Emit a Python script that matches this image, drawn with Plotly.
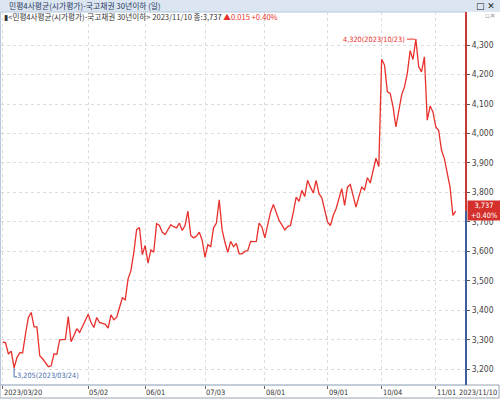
import pandas as pd
import plotly.graph_objects as go

holidays = ["2023-05-01", "2023-05-05", "2023-05-29", "2023-06-06", "2023-08-15",
            "2023-09-28", "2023-09-29", "2023-10-02", "2023-10-03", "2023-10-09"]
dates = [d.strftime("%Y-%m-%d") for d in
         pd.bdate_range("2023-03-20", "2023-11-10", freq="C", holidays=holidays)]

values = [
    3293, 3290, 3252, 3262, 3205, 3240, 3257, 3256, 3320, 3376,
    3393, 3344, 3344, 3246, 3236, 3222, 3209, 3212, 3253, 3251,
    3300, 3301, 3302, 3379, 3294, 3315, 3338, 3325, 3345, 3365,
    3387, 3359, 3342, 3376, 3359, 3356, 3353, 3340, 3385, 3368,
    3376, 3410, 3443, 3436, 3507, 3535, 3596, 3674, 3681, 3589,
    3620, 3560, 3605, 3597, 3694, 3688, 3665, 3657, 3675, 3691,
    3684, 3680, 3696, 3671, 3688, 3737, 3654, 3646, 3652, 3665,
    3638, 3580, 3623, 3616, 3680, 3696, 3775, 3673, 3631, 3597,
    3634, 3616, 3627, 3592, 3592, 3600, 3603, 3634, 3633, 3634,
    3696, 3682, 3646, 3690, 3733, 3759, 3730, 3705, 3690, 3673,
    3684, 3688, 3733, 3784, 3770, 3807, 3786, 3841, 3818, 3798,
    3841, 3796, 3782, 3737, 3700, 3688, 3722, 3745, 3780, 3813,
    3756, 3818, 3827, 3790, 3750, 3786, 3818, 3809, 3850, 3832,
    3875, 3916, 3888, 4252, 4232, 4141, 4136, 4090, 4022, 4079,
    4130, 4158, 4204, 4281, 4251, 4320, 4226, 4209, 4260, 4045,
    4093, 4073, 4022, 4011, 3943, 3915, 3869, 3818, 3722, 3737,
]

tick_dates = ["2023-03-20", "2023-05-02", "2023-06-01", "2023-07-03", "2023-08-01",
              "2023-09-01", "2023-10-04", "2023-11-01"]
tick_labels = ["2023/03/20", "05/02", "06/01", "07/03", "08/01", "09/01", "10/04", "11/01"]
y_ticks = [3200, 3300, 3400, 3500, 3600, 3700, 3800, 3900, 4000, 4100, 4200, 4300]

title_text = "민평4사평균(시가평가)-국고채권 30년이하 (일)"
legend_text = "<민평4사평균(시가평가)-국고채권 30년이하> 2023/11/10 종:3,737"
change_text = "▲0.015 +0.40%"
last_label = "3,737<br>+0.40%"

FONT = "Noto Sans CJK KR, DejaVu Sans, sans-serif"
NFONT = "Liberation Sans Narrow, DejaVu Sans Condensed, sans-serif"
RED = "#e8302c"
BLUE = "#4a6fb0"

x_idx = list(range(len(dates)))
pos = {d: i for i, d in enumerate(dates)}

fig = go.Figure()
fig.add_trace(go.Scatter(x=x_idx, y=values, mode="lines",
                         line=dict(color=RED, width=1.3), hoverinfo="skip"))

W, H = 500, 399
L, R, T, B = 1, 34, 12, 14
pw, ph = W - L - R, H - T - B
def px(xp):
    return (xp - L) / pw
def py(yp):
    return (H - B - yp) / ph

YMIN, YMAX = 3147, 4412
ypp = (YMAX - YMIN) / ph
xpp = (162.6 + 0.6) / pw

last = values[-1]
imin = values.index(min(values))
imax = values.index(max(values))

shapes = []
shapes.append(dict(type="rect", xref="paper", yref="paper", x0=px(0), x1=px(W),
                   y0=1.0, y1=py(0), fillcolor="#dbe6f2", line=dict(width=0), layer="below"))
shapes.append(dict(type="rect", xref="paper", yref="paper", x0=px(0), x1=px(W - 1),
                   y0=py(H - 1), y1=0, fillcolor="rgba(0,0,0,0)", line=dict(color="#9aa4b0", width=1)))
shapes.append(dict(type="rect", xref="paper", yref="paper", x0=px(0.5), x1=1,
                   y0=0, y1=1, line=dict(color="#b8c8dc", width=1)))
shapes.append(dict(type="line", xref="paper", yref="y", x0=1, x1=1, y0=last, y1=4420,
                   line=dict(color="#c83a36", width=2)))
shapes.append(dict(type="line", xref="paper", yref="y", x0=1, x1=1, y0=3100, y1=last,
                   line=dict(color="#3f5f9c", width=2)))
ymin_v = values[imin]
shapes.append(dict(type="path", xref="x", yref="y",
                   path="M %f %f L %f %f L %f %f" % (imin, ymin_v, imin, ymin_v - 9 * ypp,
                                                     imin + 3 * xpp, ymin_v - 9 * ypp),
                   line=dict(color=BLUE, width=1)))
ymax_v = values[imax]
shapes.append(dict(type="line", xref="x", yref="y", x0=imax - 9 * xpp, x1=imax - 1 * xpp,
                   y0=ymax_v, y1=ymax_v, line=dict(color=RED, width=1)))

annotations = []
annotations.append(dict(xref="paper", yref="paper", x=px(7), y=py(6), text=title_text,
                        showarrow=False, xanchor="left", yanchor="middle",
                        font=dict(family=FONT, size=7.8, color="#2a3a60")))
annotations.append(dict(xref="paper", yref="paper", x=px(497), y=py(6), text="□ ✕",
                        showarrow=False, xanchor="right", yanchor="middle",
                        font=dict(family="DejaVu Sans", size=9, color="#222")))
annotations.append(dict(xref="paper", yref="paper", x=px(2), y=py(16),
                        text="▮" + legend_text + " <span style='color:%s'>%s</span>" % (RED, change_text),
                        showarrow=False, xanchor="left", yanchor="middle",
                        font=dict(family=FONT, size=7.6, color="#333")))
annotations.append(dict(xref="paper", yref="paper", x=px(498), y=py(16), text="▫✕",
                        showarrow=False, xanchor="right", yanchor="middle",
                        font=dict(family="DejaVu Sans", size=7, color="#999")))
for d, lab in zip(tick_dates, tick_labels):
    annotations.append(dict(xref="x", yref="paper", x=pos[d], y=py(392), text=lab,
                            showarrow=False, xanchor="left", yanchor="middle", xshift=-1,
                            font=dict(family=NFONT, size=7.4, color="#333")))
annotations.append(dict(xref="paper", yref="paper", x=px(W - 1), y=py(392), text="2023/11/10",
                        showarrow=False, xanchor="right", yanchor="middle",
                        font=dict(family=NFONT, size=7.4, color="#333")))
annotations.append(dict(x=imin, y=ymin_v, xref="x", yref="y",
                        text="%s(%s)" % (f"{ymin_v:,}", dates[imin].replace("-", "/")),
                        showarrow=False, xanchor="left", yanchor="middle",
                        xshift=1, yshift=-8,
                        font=dict(family=NFONT, size=7.3, color=BLUE)))
annotations.append(dict(x=imax, y=ymax_v, xref="x", yref="y",
                        text="%s(%s)" % (f"{ymax_v:,}", dates[imax].replace("-", "/")),
                        showarrow=False, xanchor="right", yanchor="middle", xshift=-9,
                        font=dict(family=NFONT, size=7.3, color=RED)))
annotations.append(dict(xref="paper", yref="y", x=1, y=last, text=last_label,
                        showarrow=False, xanchor="left", yanchor="middle", xshift=1, yshift=1,
                        bgcolor="#d42f2a", borderpad=0, width=32, align="center",
                        font=dict(family=NFONT, size=7.4, color="white")))

fig.update_layout(
    width=W, height=H,
    margin=dict(l=L, r=R, t=T, b=B, pad=0),
    plot_bgcolor="white", paper_bgcolor="white",
    showlegend=False,
    shapes=shapes, annotations=annotations,
    xaxis=dict(range=[-0.6, 162.6], tickmode="array",
               tickvals=[pos[d] for d in tick_dates], ticktext=[""] * len(tick_dates),
               showgrid=True, gridcolor="#dcdcdc", griddash="dot", gridwidth=1,
               zeroline=False, showline=False, ticks="outside", ticklen=3,
               tickcolor="#666", fixedrange=True),
    yaxis=dict(range=[YMIN, YMAX], side="right", tickmode="array", tickvals=y_ticks,
               ticktext=[f"{v:,}" for v in y_ticks],
               showgrid=True, gridcolor="#dcdcdc", griddash="dot", gridwidth=1,
               zeroline=False, showline=False, ticks="outside", ticklen=3,
               tickcolor="#555",
               tickfont=dict(family=NFONT, size=8.5, color="#444")),
)

fig.write_html("out.html", config={"displayModeBar": False},
               post_script="document.body.style.margin='0';document.body.style.overflow='hidden';")
